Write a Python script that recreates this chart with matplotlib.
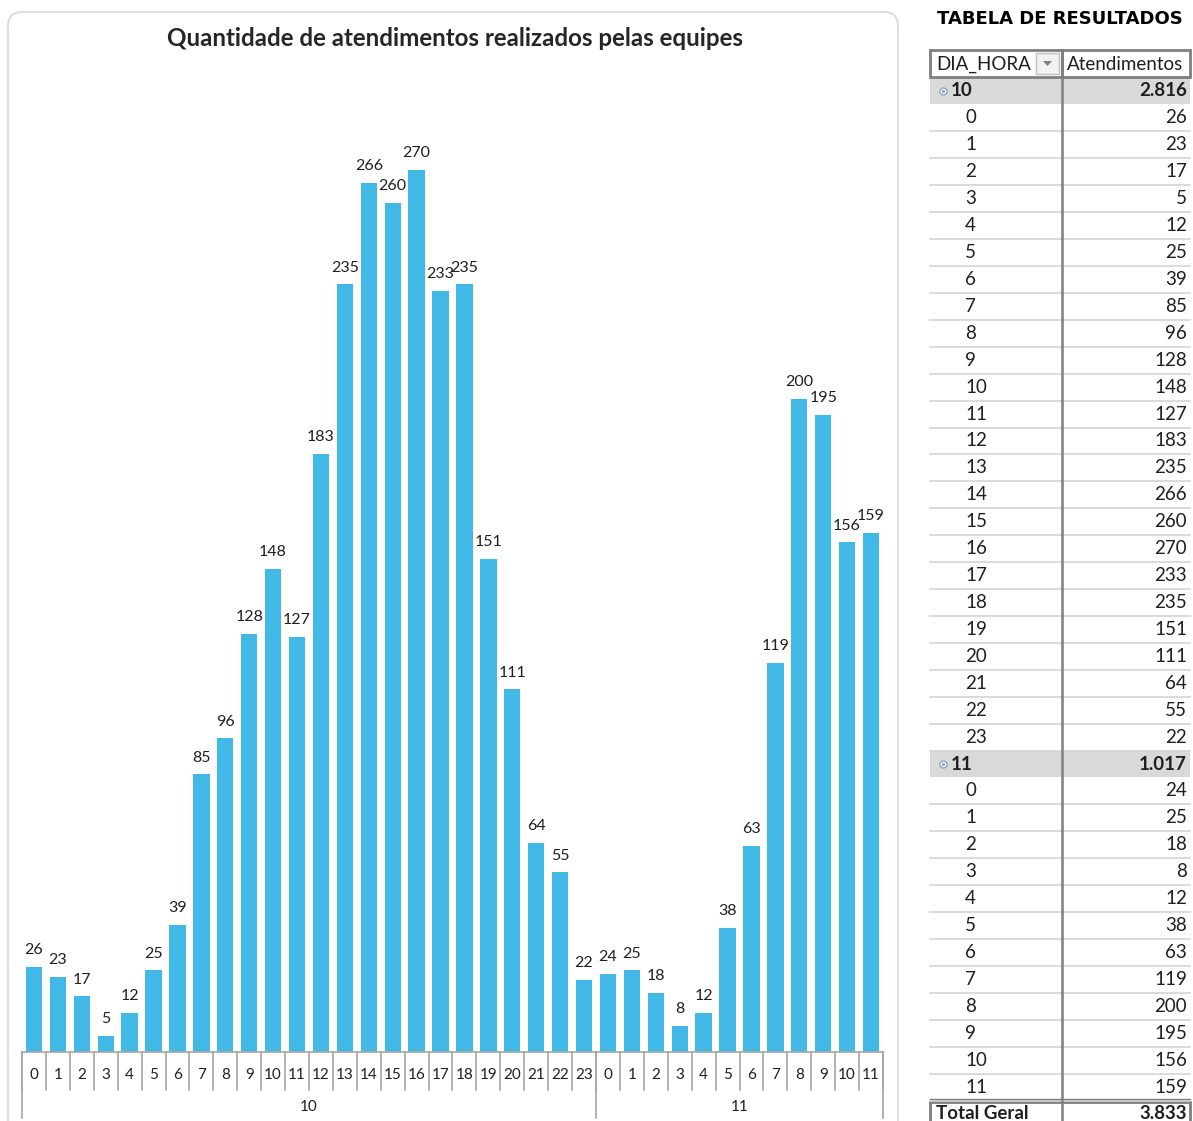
import matplotlib
matplotlib.use("Agg")
import matplotlib.pyplot as plt
from matplotlib.patches import FancyBboxPatch, Rectangle, Polygon

plt.rcParams["font.family"] = ["Lato", "DejaVu Sans"]

days = ["10", "11"]
hours_10 = list(range(24))
values_10 = [26, 23, 17, 5, 12, 25, 39, 85, 96, 128, 148, 127, 183, 235,
             266, 260, 270, 233, 235, 151, 111, 64, 55, 22]
hours_11 = list(range(12))
values_11 = [24, 25, 18, 8, 12, 38, 63, 119, 200, 195, 156, 159]

title = "Quantidade de atendimentos realizados pelas equipes"
table_title = "TABELA DE RESULTADOS"
col_headers = ["DIA_HORA", "Atendimentos"]

bar_color = "#41B8E6"
text_color = "#1F1F1F"
W, H = 1193, 1121


def fmt(n):
    return f"{n:,}".replace(",", ".")


fig = plt.figure(figsize=(W / 100, H / 100), dpi=100)

# pixel-space overlay for frame and table
bg = fig.add_axes([0, 0, 1, 1], zorder=0)
bg.set_xlim(0, W)
bg.set_ylim(H, 0)
bg.axis("off")
bg.add_patch(FancyBboxPatch((8, 12), 890, 1140, boxstyle="round,pad=0,rounding_size=14",
                            fc="white", ec="#DEDEDE", lw=1.5))

# ---- chart ----
ax = fig.add_axes([22 / W, (H - 1052) / H, 861 / W, 980 / H], zorder=1)
ax.patch.set_visible(False)
all_hours = hours_10 + hours_11
all_vals = values_10 + values_11
xs = list(range(len(all_vals)))
ax.bar(xs, all_vals, width=0.68, color=bar_color)
for x, v in zip(xs, all_vals):
    ax.text(x, v + 3, str(v), ha="center", va="bottom", fontsize=11.5, color=text_color)
ax.set_xlim(-0.5, len(xs) - 0.5)
ax.set_ylim(0, 300)
ax.set_yticks([])
ax.set_xticks([])
for s in ["left", "right", "top"]:
    ax.spines[s].set_visible(False)
ax.spines["bottom"].set_color("#A6A6A6")
ax.spines["bottom"].set_linewidth(1.2)

tr = ax.get_xaxis_transform()
for x, h in zip(xs, all_hours):
    ax.text(x, -0.0235, str(h), transform=tr, ha="center", va="center",
            fontsize=11, color=text_color, clip_on=False)
for b in range(len(xs) + 1):
    ax.plot([b - 0.5, b - 0.5], [0, -0.0388], transform=tr, color="#A6A6A6",
            lw=1.2, clip_on=False)
edges = [0, len(hours_10), len(xs)]
for e in edges:
    ax.plot([e - 0.5, e - 0.5], [0, -0.0673], transform=tr, color="#A6A6A6",
            lw=1.2, clip_on=False)
for d, a, b in zip(days, edges[:-1], edges[1:]):
    ax.text((a + b - 1) / 2, -0.0561, d, transform=tr, ha="center", va="center",
            fontsize=11, color=text_color, clip_on=False)

fig.text(455 / W, 1 - 39 / H, title, ha="center", va="center", fontsize=17.4,
         fontweight="bold", color="#262626")

# ---- table ----
bg.text(1060, 19, table_title, ha="center", va="center", fontsize=13,
        fontweight="heavy", family="DejaVu Sans", color="black")

x0, xm, x1 = 930, 1062, 1190
row_h = 26.92
first_c = 91

rows = []
for d, hs, vs in [(days[0], hours_10, values_10), (days[1], hours_11, values_11)]:
    rows.append((d, sum(vs), "group"))
    for h, v in zip(hs, vs):
        rows.append((str(h), v, "item"))
rows.append(("Total Geral", sum(values_10) + sum(values_11), "total"))

fs = 13.5
for i, (lab, val, kind) in enumerate(rows):
    c = first_c + i * row_h
    top, bot = c - row_h / 2, c + row_h / 2
    if kind == "group":
        bg.add_patch(Rectangle((x0, top), x1 - x0, row_h, fc="#D9D9D9", ec="none"))
        bg.plot(943, c, marker="o", ms=5, mfc="white", mec="#8FA3BF", mew=1)
        bg.plot(943, c, marker="o", ms=1.2, color="#8FA3BF")
        bg.text(951, c, lab, ha="left", va="center", fontsize=fs, fontweight="bold",
                color=text_color)
        bg.text(1187, c, fmt(val), ha="right", va="center", fontsize=fs,
                fontweight="bold", color=text_color)
    elif kind == "item":
        bg.text(965, c, lab, ha="left", va="center", fontsize=fs, color=text_color)
        bg.text(1187, c, fmt(val), ha="right", va="center", fontsize=fs, color=text_color)
        bg.plot([x0, x1], [bot, bot], color="#D4D4D4", lw=1.2)
    else:
        bg.add_patch(Rectangle((x0, top + 1), x1 - x0, row_h + 20, fc="white",
                               ec="#7F7F7F", lw=2))
        bg.plot([x0, x1], [top - 2, top - 2], color="#7F7F7F", lw=1)
        bg.text(936, c, lab, ha="left", va="center", fontsize=fs, fontweight="bold",
                color=text_color)
        bg.text(1187, c, fmt(val), ha="right", va="center", fontsize=fs,
                fontweight="bold", color=text_color)

# divider line
bg.plot([xm, xm], [50, H], color="#7F7F7F", lw=1.8)

# header
hc = 64
bg.add_patch(Rectangle((x0, 50), xm - x0, 27, fc="white", ec="#7F7F7F", lw=2))
bg.add_patch(Rectangle((xm, 50), x1 - xm, 27, fc="white", ec="#7F7F7F", lw=2))
bg.add_patch(Rectangle((1036, 53), 23, 21, fc="#F2F2F2", ec="#BFBFBF", lw=1))
bg.add_patch(Polygon([(1043, 61), (1052, 61), (1047.5, 66)], closed=True,
                     fc="#7F7F7F", ec="none"))
bg.text(936, hc, col_headers[0], ha="left", va="center", fontsize=fs, color=text_color)
bg.text(1067, hc, col_headers[1], ha="left", va="center", fontsize=fs, color=text_color)

fig.savefig("out.png", dpi=100)
